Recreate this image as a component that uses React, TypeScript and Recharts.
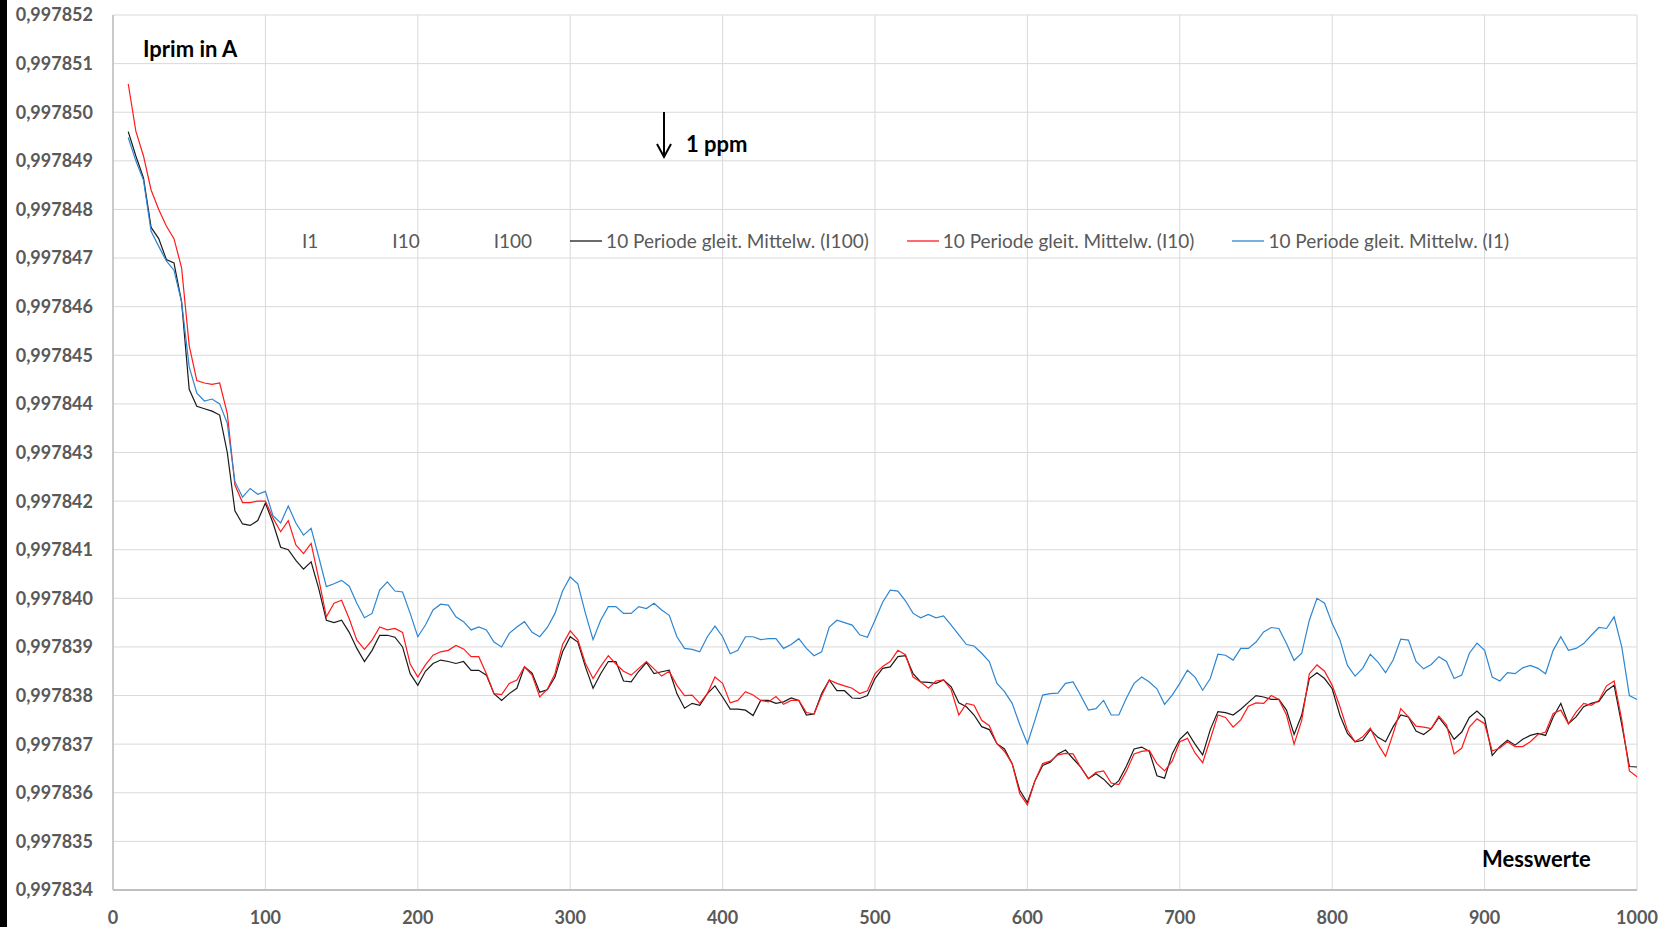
import React from "react";
import { LineChart, Line, XAxis, YAxis, CartesianGrid, Legend } from "recharts";

const messwerte = [
  10, 15, 20, 25, 30, 35, 40, 45, 50, 55,
  60, 65, 70, 75, 80, 85, 90, 95, 100, 105,
  110, 115, 120, 125, 130, 135, 140, 145, 150, 155,
  160, 165, 170, 175, 180, 185, 190, 195, 200, 205,
  210, 215, 220, 225, 230, 235, 240, 245, 250, 255,
  260, 265, 270, 275, 280, 285, 290, 295, 300, 305,
  310, 315, 320, 325, 330, 335, 340, 345, 350, 355,
  360, 365, 370, 375, 380, 385, 390, 395, 400, 405,
  410, 415, 420, 425, 430, 435, 440, 445, 450, 455,
  460, 465, 470, 475, 480, 485, 490, 495, 500, 505,
  510, 515, 520, 525, 530, 535, 540, 545, 550, 555,
  560, 565, 570, 575, 580, 585, 590, 595, 600, 605,
  610, 615, 620, 625, 630, 635, 640, 645, 650, 655,
  660, 665, 670, 675, 680, 685, 690, 695, 700, 705,
  710, 715, 720, 725, 730, 735, 740, 745, 750, 755,
  760, 765, 770, 775, 780, 785, 790, 795, 800, 805,
  810, 815, 820, 825, 830, 835, 840, 845, 850, 855,
  860, 865, 870, 875, 880, 885, 890, 895, 900, 905,
  910, 915, 920, 925, 930, 935, 940, 945, 950, 955,
  960, 965, 970, 975, 980, 985, 990, 995, 1000,
];

const mittelI100 = [
  0.9978496, 0.9978491, 0.99784865, 0.99784763, 0.9978474, 0.99784697, 0.9978469, 0.9978461, 0.9978443, 0.99784395,
  0.9978439, 0.99784385, 0.99784377, 0.997843, 0.9978418, 0.99784153, 0.9978415, 0.9978416, 0.99784196, 0.99784155,
  0.99784105, 0.997841, 0.99784078, 0.9978406, 0.99784075, 0.9978402, 0.99783955, 0.9978395, 0.99783955, 0.9978393,
  0.99783897, 0.9978387, 0.99783893, 0.99783924, 0.99783924, 0.9978392, 0.997839, 0.99783845, 0.99783821, 0.9978385,
  0.99783866, 0.99783873, 0.9978387, 0.99783866, 0.9978387, 0.99783852, 0.99783852, 0.99783842, 0.99783804, 0.9978379,
  0.99783804, 0.99783815, 0.99783859, 0.99783846, 0.99783807, 0.99783812, 0.99783838, 0.9978389, 0.99783921, 0.9978391,
  0.99783859, 0.99783815, 0.99783845, 0.9978387, 0.9978387, 0.9978383, 0.99783828, 0.9978385, 0.99783868, 0.99783845,
  0.99783849, 0.99783852, 0.99783804, 0.99783774, 0.99783784, 0.9978378, 0.99783804, 0.9978382, 0.99783797, 0.99783772,
  0.99783772, 0.9978377, 0.99783759, 0.9978379, 0.9978379, 0.99783784, 0.99783787, 0.99783795, 0.9978379, 0.9978376,
  0.99783762, 0.99783804, 0.99783832, 0.9978381, 0.9978381, 0.99783795, 0.99783794, 0.997838, 0.99783835, 0.99783856,
  0.99783859, 0.9978388, 0.99783882, 0.99783845, 0.99783828, 0.99783827, 0.99783825, 0.99783832, 0.99783818, 0.99783785,
  0.99783777, 0.9978376, 0.99783736, 0.9978373, 0.99783701, 0.9978369, 0.9978366, 0.99783605, 0.9978358, 0.99783625,
  0.99783656, 0.99783663, 0.9978368, 0.99783688, 0.9978367, 0.99783653, 0.99783629, 0.99783639, 0.99783628, 0.99783612,
  0.99783625, 0.99783655, 0.9978369, 0.99783694, 0.99783685, 0.99783635, 0.9978363, 0.9978368, 0.9978371, 0.99783725,
  0.997837, 0.99783678, 0.9978373, 0.99783767, 0.99783765, 0.9978376, 0.99783772, 0.99783786, 0.997838, 0.99783797,
  0.99783792, 0.99783792, 0.9978377, 0.9978372, 0.9978376, 0.99783835, 0.99783847, 0.99783835, 0.99783814, 0.9978376,
  0.99783722, 0.99783705, 0.99783708, 0.9978373, 0.99783714, 0.99783705, 0.99783736, 0.9978376, 0.99783756, 0.99783727,
  0.9978372, 0.99783732, 0.99783755, 0.99783735, 0.9978371, 0.99783725, 0.99783755, 0.99783768, 0.99783753, 0.99783677,
  0.99783695, 0.99783708, 0.99783698, 0.9978371, 0.99783718, 0.99783722, 0.99783718, 0.99783756, 0.99783784, 0.99783742,
  0.99783756, 0.99783777, 0.99783784, 0.99783788, 0.9978381, 0.99783821, 0.9978374, 0.99783654, 0.99783653,
];

const mittelI10 = [
  0.99785058, 0.99784961, 0.9978491, 0.9978484, 0.997848, 0.99784766, 0.9978474, 0.9978468, 0.9978452, 0.99784448,
  0.99784443, 0.9978444, 0.99784443, 0.9978438, 0.99784233, 0.99784197, 0.99784197, 0.997842, 0.997842, 0.99784165,
  0.99784137, 0.9978416, 0.9978411, 0.99784092, 0.99784113, 0.9978404, 0.99783962, 0.9978399, 0.99783996, 0.99783958,
  0.99783914, 0.99783895, 0.99783914, 0.99783941, 0.99783935, 0.99783938, 0.9978393, 0.99783865, 0.99783838, 0.99783863,
  0.99783883, 0.9978389, 0.99783893, 0.99783903, 0.99783896, 0.9978388, 0.9978388, 0.99783845, 0.99783804, 0.99783802,
  0.99783825, 0.99783832, 0.99783859, 0.99783842, 0.99783797, 0.99783813, 0.99783845, 0.99783905, 0.99783933, 0.99783915,
  0.99783866, 0.99783835, 0.9978386, 0.99783882, 0.99783865, 0.9978385, 0.99783842, 0.99783856, 0.9978387, 0.99783855,
  0.9978384, 0.9978385, 0.99783821, 0.997838, 0.99783801, 0.99783784, 0.99783804, 0.99783838, 0.99783825, 0.99783785,
  0.9978379, 0.99783808, 0.99783801, 0.9978379, 0.99783787, 0.99783798, 0.99783782, 0.9978379, 0.9978379, 0.99783765,
  0.99783762, 0.997838, 0.99783832, 0.99783825, 0.9978382, 0.99783815, 0.99783804, 0.9978381, 0.99783845, 0.9978386,
  0.9978387, 0.99783893, 0.99783884, 0.99783838, 0.99783828, 0.99783815, 0.9978383, 0.99783832, 0.99783812, 0.9978376,
  0.99783784, 0.9978378, 0.99783749, 0.99783738, 0.99783701, 0.99783685, 0.9978366, 0.99783598, 0.99783575, 0.99783625,
  0.9978366, 0.99783665, 0.99783678, 0.99783681, 0.9978368, 0.99783652, 0.99783629, 0.99783642, 0.99783645, 0.9978362,
  0.99783617, 0.99783645, 0.9978368, 0.99783685, 0.99783687, 0.9978366, 0.99783645, 0.99783665, 0.99783705, 0.99783712,
  0.99783682, 0.99783662, 0.9978371, 0.9978376, 0.99783755, 0.99783735, 0.9978375, 0.99783778, 0.99783785, 0.99783784,
  0.997838, 0.99783792, 0.9978376, 0.997837, 0.99783749, 0.99783845, 0.99783863, 0.9978385, 0.99783821, 0.99783778,
  0.99783729, 0.99783705, 0.99783715, 0.99783733, 0.997837, 0.99783675, 0.99783722, 0.99783773, 0.99783756, 0.99783737,
  0.99783735, 0.99783732, 0.99783758, 0.9978374, 0.9978368, 0.99783692, 0.99783735, 0.99783752, 0.99783742, 0.99783686,
  0.99783692, 0.99783705, 0.99783695, 0.99783695, 0.99783705, 0.9978372, 0.99783725, 0.99783763, 0.9978377, 0.99783742,
  0.99783766, 0.99783784, 0.9978378, 0.9978379, 0.9978382, 0.9978383, 0.9978375, 0.99783645, 0.99783633,
];

const mittelI1 = [
  0.99784948, 0.997849, 0.9978486, 0.99784755, 0.99784724, 0.99784694, 0.99784675, 0.9978461, 0.99784476, 0.99784422,
  0.99784406, 0.9978441, 0.997844, 0.9978436, 0.9978424, 0.99784208, 0.99784226, 0.99784214, 0.9978422, 0.9978417,
  0.99784155, 0.9978419, 0.99784155, 0.9978413, 0.99784144, 0.99784085, 0.99784024, 0.9978403, 0.99784037, 0.99784025,
  0.9978399, 0.9978396, 0.99783969, 0.99784017, 0.99784034, 0.99784015, 0.99784013, 0.99783969, 0.99783921, 0.99783945,
  0.99783976, 0.99783988, 0.99783986, 0.99783962, 0.99783952, 0.99783935, 0.99783941, 0.99783935, 0.9978391, 0.997839,
  0.99783928, 0.99783941, 0.99783952, 0.9978393, 0.99783921, 0.9978394, 0.99783969, 0.99784015, 0.99784044, 0.9978403,
  0.99783969, 0.99783915, 0.99783955, 0.99783983, 0.99783983, 0.99783969, 0.99783969, 0.99783983, 0.99783979, 0.9978399,
  0.99783976, 0.99783965, 0.99783921, 0.99783897, 0.99783895, 0.9978389, 0.99783921, 0.99783943, 0.99783921, 0.99783886,
  0.99783893, 0.99783921, 0.99783921, 0.99783915, 0.99783917, 0.99783917, 0.99783897, 0.99783905, 0.99783917, 0.99783897,
  0.99783882, 0.9978389, 0.99783941, 0.99783955, 0.9978395, 0.99783945, 0.99783925, 0.9978392, 0.99783955, 0.99783992,
  0.99784017, 0.99784015, 0.99783995, 0.99783969, 0.9978396, 0.99783967, 0.9978396, 0.99783964, 0.99783945, 0.99783925,
  0.99783905, 0.99783902, 0.99783887, 0.9978387, 0.99783825, 0.99783808, 0.99783784, 0.9978374, 0.99783701, 0.9978375,
  0.99783801, 0.99783804, 0.99783805, 0.99783825, 0.99783828, 0.997838, 0.9978377, 0.99783773, 0.9978379, 0.9978376,
  0.9978376, 0.99783795, 0.99783825, 0.99783838, 0.99783828, 0.99783814, 0.99783782, 0.99783801, 0.99783825, 0.99783852,
  0.99783838, 0.99783811, 0.99783835, 0.99783885, 0.99783883, 0.99783873, 0.99783897, 0.99783897, 0.9978391, 0.99783931,
  0.9978394, 0.99783938, 0.99783907, 0.99783872, 0.99783887, 0.99783955, 0.99784, 0.9978399, 0.99783948, 0.99783915,
  0.99783862, 0.9978384, 0.99783856, 0.99783885, 0.99783869, 0.99783847, 0.99783873, 0.99783916, 0.99783914, 0.9978387,
  0.99783855, 0.99783864, 0.9978388, 0.9978387, 0.99783835, 0.99783842, 0.99783887, 0.99783908, 0.99783893, 0.99783838,
  0.9978383, 0.99783847, 0.99783845, 0.99783857, 0.99783862, 0.99783856, 0.99783845, 0.99783893, 0.99783921, 0.99783893,
  0.99783897, 0.99783907, 0.99783924, 0.9978394, 0.99783938, 0.99783962, 0.997839, 0.997838, 0.99783792,
];

const yTicks = [
  0.997834, 0.997835, 0.997836, 0.997837, 0.997838, 0.997839, 0.99784, 0.997841, 0.997842, 0.997843,
  0.997844, 0.997845, 0.997846, 0.997847, 0.997848, 0.997849, 0.99785, 0.997851, 0.997852,
];
const xTicks = [0, 100, 200, 300, 400, 500, 600, 700, 800, 900, 1000];

const rawNames = ["I1", "I10", "I100"];
const seriesKeys = ["i100", "i10", "i1"];
const seriesNames = [
  "10 Periode gleit. Mittelw. (I100)",
  "10 Periode gleit. Mittelw. (I10)",
  "10 Periode gleit. Mittelw. (I1)",
];
const seriesColors = ["#1a1a1a", "#ff1a1a", "#2e86d1"];

const data = messwerte.map((n, i) => ({
  n,
  i100: mittelI100[i],
  i10: mittelI10[i],
  i1: mittelI1[i],
}));

const FONT = "Lato, 'Open Sans', sans-serif";
const GREY = "#595959";

function LegendRow() {
  const items = [
    ...rawNames.map((name) => ({ name, color: "#ffffff" })),
    ...seriesNames.map((name, i) => ({ name, color: seriesColors[i] })),
  ];
  return (
    <div style={{ display: "flex", alignItems: "center", fontFamily: FONT, fontSize: 19, color: GREY, whiteSpace: "nowrap" }}>
      {items.map((it) => (
        <div key={it.name} style={{ display: "flex", alignItems: "center", marginRight: 38 }}>
          <svg width={32} height={4}>
            <line x1={0} y1={2} x2={32} y2={2} stroke={it.color} strokeWidth={1.3} />
          </svg>
          <span style={{ marginLeft: 4 }}>{it.name}</span>
        </div>
      ))}
    </div>
  );
}

const fmt = (v: number) => v.toFixed(6).replace(".", ",");

export default function App() {
  const tickStyle = { fill: GREY, fontSize: 18, fontWeight: 700, fontFamily: FONT };
  const note = { position: "absolute" as const, fontFamily: FONT, fontWeight: 700, fontSize: 22, color: "#000", lineHeight: "26px" };
  return (
    <div style={{ position: "fixed", left: 0, top: 0, width: 1663, height: 927, background: "#fff" }}>
      <div style={{ position: "absolute", left: 0, top: 0, width: 7, height: 927, background: "#000" }} />
      <LineChart width={1663} height={927} data={data} margin={{ top: 15, right: 26, bottom: 7, left: 0 }}>
        <CartesianGrid stroke="#d9d9d9" strokeWidth={1} />
        <XAxis
          dataKey="n"
          type="number"
          domain={[0, 1000]}
          ticks={xTicks}
          height={30}
          tickLine={false}
          tickMargin={15}
          axisLine={{ stroke: "#bfbfbf", strokeWidth: 2 }}
          tick={tickStyle}
          interval={0}
        />
        <YAxis
          type="number"
          domain={[0.997834, 0.997852]}
          ticks={yTicks}
          width={113}
          tickLine={false}
          tickMargin={14}
          axisLine={{ stroke: "#bfbfbf", strokeWidth: 1.5 }}
          tick={tickStyle}
          tickFormatter={fmt}
          interval={0}
          allowDataOverflow
        />
        <Legend
          layout="horizontal"
          verticalAlign="middle"
          align="center"
          content={() => <LegendRow />}
          wrapperStyle={{ position: "absolute", left: 266, top: 229, width: "auto" }}
        />
        {seriesKeys.map((k, i) => (
          <Line
            key={k}
            dataKey={k}
            name={seriesNames[i]}
            stroke={seriesColors[i]}
            strokeWidth={1.2}
            dot={false}
            type="linear"
            isAnimationActive={false}
          />
        ))}
      </LineChart>
      <div style={{ ...note, left: 143, top: 36 }}>Iprim in A</div>
      <div style={{ ...note, left: 1482, top: 846 }}>Messwerte</div>
      <div style={{ ...note, left: 686, top: 131 }}>1 ppm</div>
      <svg style={{ position: "absolute", left: 0, top: 0 }} width={1663} height={927} pointerEvents="none">
        <line x1={664} y1={112} x2={664} y2={156} stroke="#000" strokeWidth={2} />
        <polyline points="657,144 664,157 671,144" fill="none" stroke="#000" strokeWidth={2} />
      </svg>
    </div>
  );
}
